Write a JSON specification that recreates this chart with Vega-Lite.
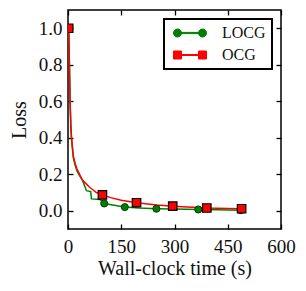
{
  "$schema": "https://vega.github.io/schema/vega-lite/v6.json",
  "width": 213,
  "height": 219,
  "autosize": {"type": "none"},
  "padding": {"left": 68, "top": 10, "right": 25, "bottom": 62},
  "background": "white",
  "config": {
    "view": {"stroke": "black", "strokeWidth": 1.5},
    "font": "Liberation Serif, Times New Roman, DejaVu Serif, serif",
    "axis": {
      "domain": false,
      "grid": false,
      "tickColor": "black",
      "tickWidth": 1.3,
      "tickSize": -5,
      "labelFont": "Liberation Serif, Times New Roman, DejaVu Serif, serif",
      "labelFontSize": 19,
      "labelColor": "#111111",
      "titleFont": "Liberation Serif, Times New Roman, DejaVu Serif, serif",
      "titleFontSize": 20,
      "titleFontWeight": "normal",
      "titleColor": "#111111"
    }
  },
  "datasets": {
    "curves": [
      {"t": 2, "loss": 1.0, "series": "LOCG"},
      {"t": 4, "loss": 0.8, "series": "LOCG"},
      {"t": 6, "loss": 0.58, "series": "LOCG"},
      {"t": 8, "loss": 0.46, "series": "LOCG"},
      {"t": 10, "loss": 0.39, "series": "LOCG"},
      {"t": 15, "loss": 0.29, "series": "LOCG"},
      {"t": 20, "loss": 0.25, "series": "LOCG"},
      {"t": 25, "loss": 0.22, "series": "LOCG"},
      {"t": 30, "loss": 0.2, "series": "LOCG"},
      {"t": 40, "loss": 0.17, "series": "LOCG"},
      {"t": 48, "loss": 0.13, "series": "LOCG"},
      {"t": 52, "loss": 0.11, "series": "LOCG"},
      {"t": 64, "loss": 0.105, "series": "LOCG"},
      {"t": 66, "loss": 0.065, "series": "LOCG"},
      {"t": 90, "loss": 0.062, "series": "LOCG"},
      {"t": 102, "loss": 0.04, "series": "LOCG"},
      {"t": 130, "loss": 0.03, "series": "LOCG"},
      {"t": 160, "loss": 0.02, "series": "LOCG"},
      {"t": 200, "loss": 0.015, "series": "LOCG"},
      {"t": 250, "loss": 0.011, "series": "LOCG"},
      {"t": 300, "loss": 0.009, "series": "LOCG"},
      {"t": 367, "loss": 0.007, "series": "LOCG"},
      {"t": 420, "loss": 0.005, "series": "LOCG"},
      {"t": 487, "loss": 0.003, "series": "LOCG"},
      {"t": 2, "loss": 1.0, "series": "OCG"},
      {"t": 4, "loss": 0.8, "series": "OCG"},
      {"t": 6, "loss": 0.6, "series": "OCG"},
      {"t": 8, "loss": 0.47, "series": "OCG"},
      {"t": 10, "loss": 0.4, "series": "OCG"},
      {"t": 15, "loss": 0.3, "series": "OCG"},
      {"t": 20, "loss": 0.26, "series": "OCG"},
      {"t": 25, "loss": 0.23, "series": "OCG"},
      {"t": 30, "loss": 0.21, "series": "OCG"},
      {"t": 40, "loss": 0.17, "series": "OCG"},
      {"t": 50, "loss": 0.15, "series": "OCG"},
      {"t": 60, "loss": 0.13, "series": "OCG"},
      {"t": 70, "loss": 0.115, "series": "OCG"},
      {"t": 80, "loss": 0.1, "series": "OCG"},
      {"t": 97, "loss": 0.087, "series": "OCG"},
      {"t": 120, "loss": 0.072, "series": "OCG"},
      {"t": 150, "loss": 0.058, "series": "OCG"},
      {"t": 193, "loss": 0.044, "series": "OCG"},
      {"t": 250, "loss": 0.032, "series": "OCG"},
      {"t": 295, "loss": 0.025, "series": "OCG"},
      {"t": 350, "loss": 0.019, "series": "OCG"},
      {"t": 391, "loss": 0.015, "series": "OCG"},
      {"t": 450, "loss": 0.012, "series": "OCG"},
      {"t": 489, "loss": 0.011, "series": "OCG"}
    ],
    "markers": [
      {"t": 2, "loss": 1.0, "series": "LOCG"},
      {"t": 102, "loss": 0.04, "series": "LOCG"},
      {"t": 160, "loss": 0.02, "series": "LOCG"},
      {"t": 249, "loss": 0.011, "series": "LOCG"},
      {"t": 367, "loss": 0.007, "series": "LOCG"},
      {"t": 487, "loss": 0.003, "series": "LOCG"},
      {"t": 2, "loss": 1.0, "series": "OCG"},
      {"t": 97, "loss": 0.087, "series": "OCG"},
      {"t": 193, "loss": 0.044, "series": "OCG"},
      {"t": 295, "loss": 0.025, "series": "OCG"},
      {"t": 391, "loss": 0.015, "series": "OCG"},
      {"t": 489, "loss": 0.011, "series": "OCG"}
    ]
  },
  "resolve": {"axis": {"x": "independent", "y": "independent"}},
  "layer": [
    {
      "data": {"name": "curves"},
      "mark": {"type": "line", "strokeWidth": 1.5, "clip": true},
      "encoding": {
        "x": {"field": "t", "type": "quantitative",
          "scale": {"domain": [0, 600], "nice": false, "zero": false},
          "axis": {"orient": "bottom", "values": [0, 150, 300, 450, 600], "title": "Wall-clock time (s)", "labelPadding": 13, "titlePadding": 2, "labelFlush": false}},
        "y": {"field": "loss", "type": "quantitative",
          "scale": {"domain": [-0.1, 1.1], "nice": false, "zero": false},
          "axis": {"orient": "left", "values": [0, 0.2, 0.4, 0.6, 0.8, 1.0], "format": ".1f", "title": "Loss", "labelPadding": 11, "titlePadding": 9}},
        "color": {"field": "series", "type": "nominal",
          "scale": {"domain": ["LOCG", "OCG"], "range": ["#008000", "#ff0000"]},
          "legend": {
            "title": null,
            "orient": "top-right",
            "offset": 9,
            "padding": 6,
            "labelFont": "Liberation Serif, Times New Roman, DejaVu Serif, serif",
            "labelFontSize": 16,
            "labelColor": "#111111",
            "symbolSize": 100,
            "symbolOffset": 12,
            "labelOffset": 24,
            "rowPadding": 6,
            "encode": {
              "legend": {
                "update": {
                  "fill": {"value": "white"},
                  "stroke": {"value": "black"},
                  "strokeWidth": {"value": 2}
                }
              },
              "symbols": {
                "update": {
                  "shape": [
                    {"test": "datum.value === 'LOCG'", "value": "M-1.7,0A0.8,0.8 0 1,0 -3.3,0A0.8,0.8 0 1,0 -1.7,0Z M3.3,0A0.8,0.8 0 1,0 1.7,0A0.8,0.8 0 1,0 3.3,0Z M-1.7,-0.12H1.7V0.12H-1.7Z"},
                    {"value": "M-3.3,-0.8H-1.7V0.8H-3.3Z M1.7,-0.8H3.3V0.8H1.7Z M-1.7,-0.1H1.7V0.1H-1.7Z"}
                  ],
                  "fill": [
                    {"test": "datum.value === 'LOCG'", "value": "#008000"},
                    {"value": "#ff0000"}
                  ],
                  "stroke": [
                    {"test": "datum.value === 'LOCG'", "value": "#005000"},
                    {"value": "black"}
                  ],
                  "strokeWidth": {"value": 1},
                  "opacity": {"value": 1},
                  "fillOpacity": {"value": 1}
                }
              }
            }
          }}
      }
    },
    {
      "data": {"name": "markers"},
      "transform": [{"filter": "datum.series === 'LOCG'"}],
      "mark": {"type": "point", "shape": "circle", "size": 50, "filled": true, "fill": "#008000", "opacity": 1, "stroke": "#003a00", "strokeWidth": 1, "clip": true},
      "encoding": {
        "x": {"field": "t", "type": "quantitative",
          "scale": {"domain": [0, 600], "nice": false, "zero": false},
          "axis": {"orient": "top", "values": [0, 150, 300, 450, 600], "labels": false, "title": null}},
        "y": {"field": "loss", "type": "quantitative",
          "scale": {"domain": [-0.1, 1.1], "nice": false, "zero": false},
          "axis": {"orient": "right", "values": [0, 0.2, 0.4, 0.6, 0.8, 1.0], "labels": false, "title": null}}
      }
    },
    {
      "data": {"name": "markers"},
      "transform": [{"filter": "datum.series === 'OCG'"}],
      "mark": {"type": "point", "shape": "square", "size": 72, "filled": true, "fill": "#ff0000", "opacity": 1, "stroke": "black", "strokeWidth": 1.2, "clip": true},
      "encoding": {
        "x": {"field": "t", "type": "quantitative", "axis": null},
        "y": {"field": "loss", "type": "quantitative", "axis": null}
      }
    }
  ]
}
